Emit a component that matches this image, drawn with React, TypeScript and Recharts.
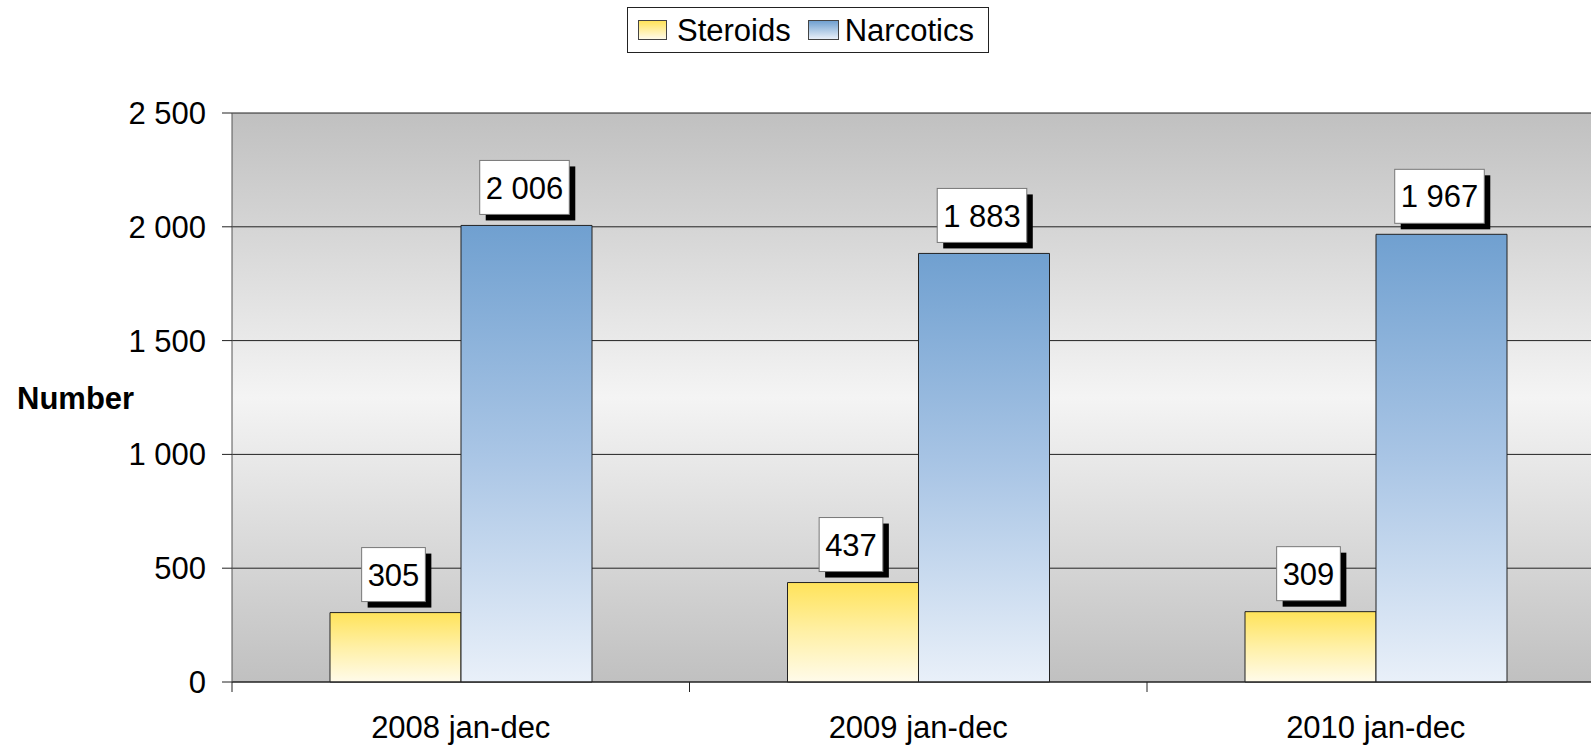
import React from 'react';
import { BarChart, Bar, XAxis, YAxis, CartesianGrid, LabelList } from 'recharts';

const categories = ['2008 jan-dec', '2009 jan-dec', '2010 jan-dec'];
const steroids = [305, 437, 309];
const narcotics = [2006, 1883, 1967];
const yTicks = [0, 500, 1000, 1500, 2000, 2500];
const boundaryTicks = [0, 0.5, 1, 1.5, 2, 2.5, 3];
const seriesNames = ['Steroids', 'Narcotics'];

const data = categories.map((c, i) => ({ name: c, pos: i + 0.5, steroids: steroids[i], narcotics: narcotics[i] }));

const FONT = '"Liberation Sans", Arial, sans-serif';
const FS = 31;

const fmt = (v: number) => {
  const s = String(Math.round(v));
  return s.replace(/\B(?=(\d{3})+(?!\d))/g, ' ');
};

const textWidth = (s: string) => {
  let w = 0;
  for (const ch of s) w += ch === ' ' ? 0.278 : 0.556;
  return w * FS;
};

const ValueLabel = (props: any) => {
  const { x, y, width, value } = props;
  const txt = fmt(Number(value));
  const w = textWidth(txt) + 12;
  const h = 54;
  const cx = x + width / 2 - 2;
  const bx = cx - w / 2;
  const by = y - 11 - h;
  return (
    <g>
      <rect x={bx + 6} y={by + 6} width={w} height={h} fill="#000" />
      <rect x={bx} y={by} width={w} height={h} fill="#fff" stroke="#777" strokeWidth={1} />
      <text x={cx} y={by + h / 2} dy="0.36em" textAnchor="middle" fontSize={FS} fontFamily={FONT} fill="#000">
        {txt}
      </text>
    </g>
  );
};

const XTick = (props: any) => {
  const { x, y, payload } = props;
  const v = payload.value as number;
  if (Math.abs(v - Math.round(v)) < 1e-6) {
    return <line x1={x} x2={x} y1={y} y2={y + 10} stroke="#222" strokeWidth={1} />;
  }
  const label = categories[Math.floor(v)];
  return (
    <text x={x} y={y + 34} dy="0.71em" textAnchor="middle" fontSize={FS} fontFamily={FONT} fill="#000">
      {label}
    </text>
  );
};

export default function App() {
  return (
    <div
      style={{
        position: 'absolute',
        left: 0,
        top: 0,
        width: 1591,
        height: 748,
        overflow: 'hidden',
        background: '#fff',
        fontFamily: FONT,
      }}
    >
      <BarChart
        width={1620}
        height={748}
        data={data}
        margin={{ top: 113, right: 15.5, bottom: 0, left: 0 }}
        barGap={0}
        barCategoryGap={98}
      >
        <defs>
          <linearGradient id="bgGrad" x1="0" y1="0" x2="0" y2="1">
            <stop offset="0%" stopColor="#c0c0c0" />
            <stop offset="50%" stopColor="#f4f4f4" />
            <stop offset="100%" stopColor="#c0c0c0" />
          </linearGradient>
          <linearGradient id="yelGrad" x1="0" y1="0" x2="0" y2="1">
            <stop offset="0%" stopColor="#ffe35a" />
            <stop offset="50%" stopColor="#fff0a6" />
            <stop offset="100%" stopColor="#fffbea" />
          </linearGradient>
          <linearGradient id="bluGrad" x1="0" y1="0" x2="0" y2="1">
            <stop offset="0%" stopColor="#70a0d0" />
            <stop offset="50%" stopColor="#a9c5e5" />
            <stop offset="100%" stopColor="#e9f0f9" />
          </linearGradient>
        </defs>
        <CartesianGrid vertical={false} horizontal={true} stroke="#222" fill="url(#bgGrad)" fillOpacity={1} />
        <XAxis xAxisId="cat" dataKey="name" type="category" hide />
        <XAxis
          dataKey="pos"
          type="number"
          domain={[0, 3]}
          allowDataOverflow={true}
          ticks={boundaryTicks}
          interval={0}
          allowDecimals={true}
          height={66}
          tickSize={0}
          tickMargin={0}
          tickLine={false}
          axisLine={{ stroke: '#222' }}
          tick={<XTick />}
        />
        <YAxis
          domain={[0, 2500]}
          ticks={yTicks}
          interval={0}
          width={232}
          tickSize={10}
          tickMargin={16}
          tickLine={{ stroke: '#222' }}
          axisLine={{ stroke: '#555' }}
          tickFormatter={fmt}
          tick={{ fontSize: FS, fill: '#000', fontFamily: FONT }}
          label={{
            value: 'Number',
            position: 'insideLeft',
            offset: 17,
            fontSize: FS,
            fontWeight: 'bold',
            fill: '#000',
            fontFamily: FONT,
          }}
        />
        <Bar xAxisId="cat" dataKey="steroids" name={seriesNames[0]} fill="url(#yelGrad)" stroke="#222" strokeWidth={1} isAnimationActive={false}>
          <LabelList dataKey="steroids" content={<ValueLabel />} />
        </Bar>
        <Bar xAxisId="cat" dataKey="narcotics" name={seriesNames[1]} fill="url(#bluGrad)" stroke="#222" strokeWidth={1} isAnimationActive={false}>
          <LabelList dataKey="narcotics" content={<ValueLabel />} />
        </Bar>
      </BarChart>
      <div
        style={{
          position: 'absolute',
          left: 627,
          top: 7,
          width: 362,
          height: 46,
          boxSizing: 'border-box',
          border: '1px solid #222',
          background: '#fff',
          display: 'flex',
          alignItems: 'center',
          fontSize: FS,
          color: '#000',
          lineHeight: 1,
        }}
      >
        <span
          style={{
            display: 'inline-block',
            width: 29,
            height: 20,
            marginLeft: 10,
            boxSizing: 'border-box',
            border: '1px solid #444',
            background: 'linear-gradient(#ffe35a, #fffbea)',
          }}
        />
        <span style={{ marginLeft: 10 }}>{seriesNames[0]}</span>
        <span
          style={{
            display: 'inline-block',
            width: 31,
            height: 20,
            marginLeft: 17,
            boxSizing: 'border-box',
            border: '1px solid #444',
            background: 'linear-gradient(#70a0d0, #e9f0f9)',
          }}
        />
        <span style={{ marginLeft: 6 }}>{seriesNames[1]}</span>
      </div>
    </div>
  );
}
